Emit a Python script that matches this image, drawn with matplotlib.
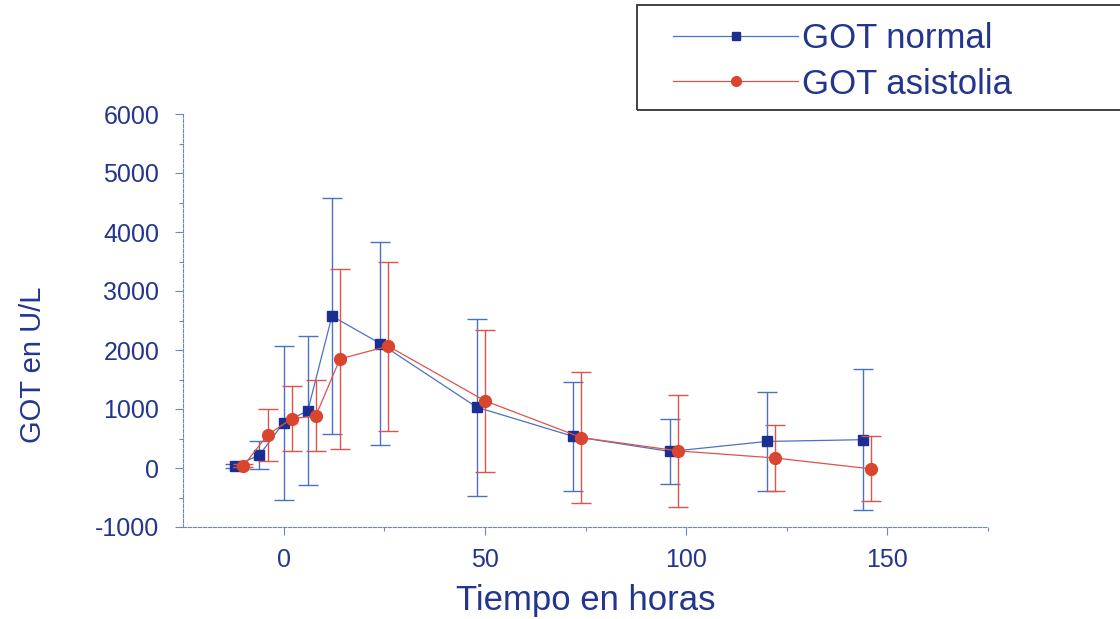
import matplotlib.pyplot as plt
from matplotlib.ticker import MultipleLocator, FixedLocator
from matplotlib.lines import Line2D
from matplotlib.patches import Rectangle

# GOT (U/L) frente al tiempo, media y desviacion
horas_normal = [-12, -6, 0, 6, 12, 24, 48, 72, 96, 120, 144]
got_normal = [35, 220, 770, 970, 2575, 2110, 1030, 535, 280, 450, 480]
de_normal = [30, 245, 1305, 1260, 2000, 1725, 1500, 925, 545, 835, 1190]

horas_asist = [-10, -4, 2, 8, 14, 26, 50, 74, 98, 122, 146]
got_asist = [35, 560, 835, 885, 1850, 2065, 1140, 515, 290, 170, -15]
de_asist = [25, 435, 555, 605, 1530, 1430, 1200, 1110, 950, 560, 550]

azul_txt = '#23358f'
azul_linea = '#4a72c4'
azul_marca = '#1b2f93'
rojo_linea = '#e0524a'
rojo_marca = '#d9452e'
eje = '#7086c4'

plt.rcParams['font.family'] = ['Liberation Sans', 'DejaVu Sans']
plt.rcParams['axes.unicode_minus'] = False

W, H = 1120, 619
fig = plt.figure(figsize=(W / 100, H / 100), dpi=100)
ax = fig.add_axes([183 / W, 1 - 527 / H, (988 - 183) / W, (527 - 114) / H])

ax.errorbar(horas_normal, got_normal, yerr=de_normal, color=azul_linea, lw=0.9,
            marker='s', ms=7, mfc=azul_marca, mec=azul_marca,
            ecolor=azul_linea, elinewidth=1.0, capsize=7.5, capthick=1.0, zorder=3)
ax.errorbar(horas_asist, got_asist, yerr=de_asist, color=rojo_linea, lw=0.9,
            marker='o', ms=8.5, mfc=rojo_marca, mec=rojo_marca,
            ecolor=rojo_linea, elinewidth=1.0, capsize=7.5, capthick=1.0, zorder=4)

ax.set_xlim(-25, 175)
ax.set_ylim(-1000, 6000)
ax.xaxis.set_major_locator(FixedLocator([0, 50, 100, 150]))
ax.xaxis.set_minor_locator(FixedLocator([25, 75, 125, 175]))
ax.yaxis.set_major_locator(MultipleLocator(1000))
ax.yaxis.set_minor_locator(MultipleLocator(500))

for lado in ['top', 'right']:
    ax.spines[lado].set_visible(False)
for lado in ['left', 'bottom']:
    ax.spines[lado].set_color(eje)
    ax.spines[lado].set_linewidth(0.8)
    ax.spines[lado].set_linestyle((0, (3, 1.5)))

ax.tick_params(axis='both', which='major', colors=eje, labelcolor=azul_txt,
               labelsize=18, length=6, width=0.8)
ax.tick_params(axis='x', which='major', pad=9)
ax.tick_params(axis='y', which='major', pad=11)
ax.tick_params(axis='both', which='minor', colors=eje, length=3, width=0.8)

ax.set_xlabel('Tiempo en horas', fontsize=25, color=azul_txt, labelpad=9)
ax.set_ylabel('GOT en U/L', fontsize=21, color=azul_txt)
ax.yaxis.set_label_coords((47 - 183) / 805, (527 - 365) / 413)

# recuadro de la leyenda, se sale por la derecha
fig.add_artist(Rectangle((637 / W, 1 - 110 / H), (W + 10 - 637) / W, 105 / H,
                         transform=fig.transFigure, fill=False,
                         edgecolor='#333333', lw=1.3))

manijas = [
    Line2D([], [], color=azul_linea, lw=0.9, marker='s', ms=6,
           mfc=azul_marca, mec=azul_marca),
    Line2D([], [], color=rojo_linea, lw=0.9, marker='o', ms=7,
           mfc=rojo_marca, mec=rojo_marca),
]
leyenda = fig.legend(manijas, ['GOT normal', 'GOT asistolia'],
                     loc='upper left', bbox_to_anchor=(673 / W, 1 - 22 / H),
                     fontsize=25, handlelength=3.6, handletextpad=0.12,
                     labelspacing=0.36, borderpad=0, frameon=False,
                     borderaxespad=0)
for t in leyenda.get_texts():
    t.set_color(azul_txt)

fig.savefig('out.png', dpi=100)
